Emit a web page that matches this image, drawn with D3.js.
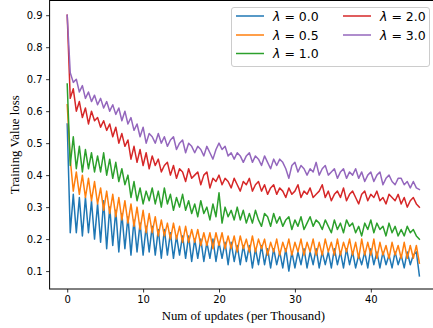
<!DOCTYPE html>
<html>
<head>
<meta charset="utf-8">
<script src="https://cdn.jsdelivr.net/npm/d3@7"></script>
<style>
  body { margin: 0; background: #fff; }
  svg { display: block; }
</style>
</head>
<body>
<div id="chart"></div>
<script>
// updates in thousands, sampled every 0.4k
const step = 0.4;
const nPoints = 117;

const lambdas = ["0.0", "0.5", "1.0", "2.0", "3.0"];
const colors = ["#1f77b4", "#ff7f0e", "#2ca02c", "#d62728", "#9467bd"];

const loss00 = [
  0.56, 0.22, 0.34, 0.22, 0.33, 0.21, 0.33, 0.22, 0.32, 0.20,
  0.31, 0.19, 0.32, 0.17, 0.30, 0.18, 0.29, 0.16, 0.28, 0.17,
  0.27, 0.15, 0.26, 0.16, 0.25, 0.15, 0.24, 0.16, 0.24, 0.15,
  0.23, 0.14, 0.23, 0.15, 0.22, 0.14, 0.21, 0.15, 0.21, 0.14,
  0.21, 0.13, 0.20, 0.14, 0.20, 0.13, 0.19, 0.14, 0.20, 0.13,
  0.19, 0.14, 0.19, 0.12, 0.19, 0.13, 0.18, 0.12, 0.18, 0.13,
  0.18, 0.11, 0.17, 0.12, 0.18, 0.12, 0.17, 0.11, 0.17, 0.12,
  0.16, 0.11, 0.17, 0.10, 0.16, 0.11, 0.16, 0.12, 0.17, 0.11,
  0.16, 0.12, 0.17, 0.11, 0.16, 0.12, 0.16, 0.11, 0.17, 0.12,
  0.16, 0.11, 0.17, 0.12, 0.16, 0.11, 0.15, 0.12, 0.16, 0.11,
  0.17, 0.12, 0.16, 0.11, 0.16, 0.12, 0.15, 0.11, 0.16, 0.12,
  0.15, 0.11, 0.16, 0.12, 0.15, 0.16, 0.085
];
const loss05 = [
  0.62, 0.45, 0.35, 0.41, 0.34, 0.40, 0.33, 0.39, 0.32, 0.38,
  0.31, 0.36, 0.29, 0.35, 0.28, 0.34, 0.27, 0.33, 0.26, 0.32,
  0.25, 0.31, 0.24, 0.30, 0.23, 0.29, 0.22, 0.28, 0.22, 0.27,
  0.21, 0.26, 0.21, 0.25, 0.20, 0.25, 0.20, 0.24, 0.19, 0.24,
  0.19, 0.23, 0.19, 0.23, 0.18, 0.22, 0.18, 0.22, 0.17, 0.22,
  0.18, 0.22, 0.17, 0.21, 0.17, 0.21, 0.16, 0.21, 0.17, 0.20,
  0.16, 0.21, 0.16, 0.20, 0.17, 0.20, 0.15, 0.19, 0.16, 0.20,
  0.15, 0.19, 0.16, 0.20, 0.15, 0.19, 0.16, 0.20, 0.15, 0.19,
  0.16, 0.20, 0.15, 0.19, 0.15, 0.20, 0.16, 0.19, 0.15, 0.20,
  0.15, 0.19, 0.16, 0.20, 0.15, 0.19, 0.14, 0.20, 0.15, 0.19,
  0.15, 0.20, 0.14, 0.19, 0.15, 0.18, 0.14, 0.19, 0.15, 0.18,
  0.14, 0.19, 0.14, 0.18, 0.14, 0.18, 0.125
];
const loss10 = [
  0.685, 0.43, 0.52, 0.42, 0.49, 0.41, 0.48, 0.42, 0.47, 0.41,
  0.46, 0.41, 0.47, 0.40, 0.45, 0.39, 0.44, 0.38, 0.42, 0.37,
  0.40, 0.33, 0.38, 0.32, 0.36, 0.31, 0.35, 0.32, 0.36, 0.31,
  0.35, 0.30, 0.36, 0.31, 0.34, 0.29, 0.33, 0.30, 0.34, 0.29,
  0.32, 0.28, 0.31, 0.27, 0.32, 0.28, 0.30, 0.26, 0.31, 0.27,
  0.345, 0.25, 0.30, 0.27, 0.29, 0.26, 0.30, 0.26, 0.29, 0.25,
  0.28, 0.25, 0.29, 0.26, 0.24, 0.28, 0.27, 0.24, 0.28, 0.25,
  0.27, 0.24, 0.26, 0.27, 0.23, 0.26, 0.24, 0.27, 0.23, 0.25,
  0.27, 0.24, 0.26, 0.25, 0.23, 0.26, 0.24, 0.22, 0.26, 0.23,
  0.25, 0.22, 0.26, 0.24, 0.25, 0.22, 0.24, 0.21, 0.25, 0.23,
  0.26, 0.22, 0.25, 0.23, 0.24, 0.21, 0.25, 0.22, 0.24, 0.21,
  0.23, 0.21, 0.24, 0.22, 0.23, 0.21, 0.20
];
const loss20 = [
  0.90, 0.64, 0.67, 0.60, 0.63, 0.58, 0.61, 0.56, 0.60, 0.57,
  0.58, 0.55, 0.57, 0.54, 0.56, 0.52, 0.55, 0.50, 0.53, 0.49,
  0.51, 0.45, 0.49, 0.44, 0.48, 0.43, 0.47, 0.42, 0.46, 0.43,
  0.45, 0.41, 0.43, 0.44, 0.40, 0.43, 0.39, 0.42, 0.41, 0.38,
  0.42, 0.39, 0.40, 0.41, 0.37, 0.40, 0.41, 0.36, 0.39, 0.38,
  0.40, 0.37, 0.39, 0.38, 0.36, 0.39, 0.37, 0.35, 0.38, 0.37,
  0.39, 0.35, 0.37, 0.38, 0.35, 0.37, 0.34, 0.36, 0.37, 0.34,
  0.36, 0.35, 0.33, 0.36, 0.34, 0.35, 0.37, 0.33, 0.35, 0.34,
  0.36, 0.33, 0.34, 0.35, 0.37, 0.33, 0.35, 0.32, 0.34, 0.35,
  0.33, 0.36, 0.32, 0.34, 0.35, 0.33, 0.31, 0.34, 0.35, 0.32,
  0.34, 0.33, 0.35, 0.32, 0.33, 0.31, 0.34, 0.33, 0.32, 0.34,
  0.31, 0.33, 0.30, 0.32, 0.33, 0.31, 0.30
];
const loss30 = [
  0.90, 0.72, 0.69, 0.70, 0.66, 0.68, 0.64, 0.66, 0.63, 0.65,
  0.62, 0.64, 0.61, 0.63, 0.60, 0.62, 0.59, 0.61, 0.57, 0.60,
  0.56, 0.58, 0.54, 0.56, 0.52, 0.55, 0.50, 0.53, 0.52, 0.50,
  0.53, 0.50, 0.52, 0.49, 0.51, 0.52, 0.48, 0.50, 0.51, 0.47,
  0.50, 0.49, 0.47, 0.49, 0.48, 0.46, 0.49, 0.47, 0.45, 0.48,
  0.50, 0.48, 0.49, 0.46, 0.47, 0.45, 0.47, 0.46, 0.44, 0.46,
  0.47, 0.44, 0.46, 0.45, 0.43, 0.46, 0.44, 0.42, 0.45, 0.43,
  0.45, 0.44, 0.42, 0.39, 0.43, 0.44, 0.41, 0.43, 0.42, 0.40,
  0.42, 0.41, 0.44, 0.40, 0.42, 0.43, 0.40, 0.41, 0.42, 0.39,
  0.41, 0.42, 0.39, 0.41, 0.40, 0.42, 0.39, 0.41, 0.38, 0.40,
  0.41, 0.38, 0.40, 0.41, 0.37, 0.39, 0.40, 0.38, 0.37, 0.39,
  0.39, 0.37, 0.38, 0.36, 0.38, 0.36, 0.355
];

const xTicks = [0, 10, 20, 30, 40];
const yTicks = [0.1, 0.2, 0.3, 0.4, 0.5, 0.6, 0.7, 0.8, 0.9];

const seriesValues = [loss00, loss05, loss10, loss20, loss30];

const width = 433, height = 328;
const plot = { left: 49.6, right: 437, top: 0.5, bottom: 289 };

const svg = d3.select("#chart").append("svg")
    .attr("width", width)
    .attr("height", height);

const x = d3.scaleLinear().domain([-2.32, 48.72]).range([plot.left, plot.right]);
const y = d3.scaleLinear().domain([0.044, 0.946]).range([plot.bottom, plot.top]);

svg.append("defs").append("clipPath")
    .attr("id", "plot-clip")
    .append("rect")
    .attr("x", plot.left).attr("y", plot.top)
    .attr("width", plot.right - plot.left)
    .attr("height", plot.bottom - plot.top);

// Lines
const line = d3.line()
    .x((d, i) => x(i * step))
    .y(d => y(d));

const lines = svg.append("g").attr("clip-path", "url(#plot-clip)");
seriesValues.forEach((vals, k) => {
    lines.append("path")
        .datum(vals.slice(0, nPoints))
        .attr("fill", "none")
        .attr("stroke", colors[k])
        .attr("stroke-width", 1.5)
        .attr("stroke-linejoin", "round")
        .attr("stroke-linecap", "square")
        .attr("d", line);
});

// Axes
const tickFont = "DejaVu Sans, sans-serif";

const xAxis = svg.append("g")
    .attr("transform", `translate(0,${plot.bottom})`)
    .call(d3.axisBottom(x).tickValues(xTicks).tickSize(3.5).tickPadding(3.5).tickFormat(d3.format("d")));
const yAxis = svg.append("g")
    .attr("transform", `translate(${plot.left},0)`)
    .call(d3.axisLeft(y).tickValues(yTicks).tickSize(3.5).tickPadding(3.5).tickFormat(d3.format(".1f")));

[xAxis, yAxis].forEach(a => {
    a.select(".domain").remove();
    a.selectAll(".tick line").attr("stroke", "#000").attr("stroke-width", 0.8);
    a.selectAll(".tick text")
        .attr("fill", "#000")
        .style("font-family", tickFont)
        .style("font-size", "10px");
});

// Spines
svg.append("rect")
    .attr("x", plot.left).attr("y", plot.top)
    .attr("width", plot.right - plot.left)
    .attr("height", plot.bottom - plot.top)
    .attr("fill", "none")
    .attr("stroke", "#000")
    .attr("stroke-width", 1);

// Axis labels
svg.append("text")
    .attr("x", (plot.left + plot.right) / 2)
    .attr("y", 320)
    .attr("text-anchor", "middle")
    .style("font-family", "Liberation Serif, Times New Roman, serif")
    .style("font-size", "12.8px")
    .text("Num of updates (per Thousand)");

svg.append("text")
    .attr("transform", `translate(19,${(plot.top + plot.bottom) / 2}) rotate(-90)`)
    .attr("text-anchor", "middle")
    .style("font-family", "Liberation Serif, Times New Roman, serif")
    .style("font-size", "12.8px")
    .text("Training Value loss");

// Legend
const legend = svg.append("g");
legend.append("rect")
    .attr("x", 231.5).attr("y", 7.5)
    .attr("width", 198).attr("height", 59)
    .attr("rx", 2.5)
    .attr("fill", "#fff").attr("fill-opacity", 0.8)
    .attr("stroke", "#ccc").attr("stroke-width", 1);

const legendCols = [236, 343];
const legendRows = [16, 35, 53.5];
lambdas.forEach((lam, k) => {
    const col = k < 3 ? 0 : 1;
    const row = k < 3 ? k : k - 3;
    const lx = legendCols[col], ly = legendRows[row];
    legend.append("line")
        .attr("x1", lx).attr("x2", lx + 28)
        .attr("y1", ly).attr("y2", ly)
        .attr("stroke", colors[k]).attr("stroke-width", 1.5);
    const t = legend.append("text")
        .attr("x", lx + 37)
        .attr("y", ly + 4.5)
        .style("font-family", tickFont)
        .style("font-size", "12.5px")
        .attr("fill", "#000");
    t.append("tspan").style("font-style", "italic").text("λ");
    t.append("tspan").text(" = " + lam);
});
</script>
</body>
</html>
